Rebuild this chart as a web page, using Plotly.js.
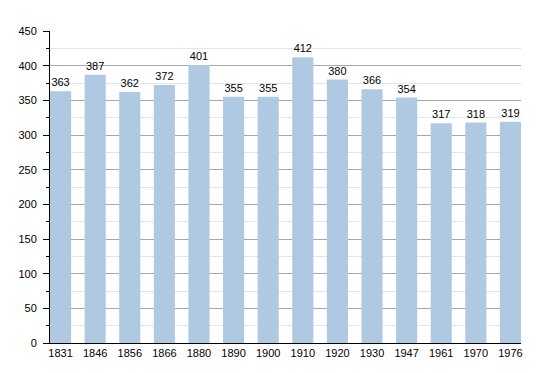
<!DOCTYPE html>
<html>
<head>
<meta charset="utf-8">
<script src="https://cdn.plot.ly/plotly-3.0.1.min.js"></script>
<style>html,body{margin:0;padding:0;background:#fff;}#chart{width:550px;height:373px;}</style>
</head>
<body>
<div id="chart"></div>
<script>
var years = ["1831","1846","1856","1866","1880","1890","1900","1910","1920","1930","1947","1961","1970","1976"];
var population = [363, 387, 362, 372, 401, 355, 355, 412, 380, 366, 354, 317, 318, 319];
var yTicks = [0, 50, 100, 150, 200, 250, 300, 350, 400, 450];

var trace = {
  type: 'bar',
  x: years,
  y: population,
  width: 0.61,
  marker: {color: '#b0c9e3', line: {width: 0}},
  text: population.map(String),
  textposition: 'outside',
  textfont: {family: 'Liberation Sans, Arial, sans-serif', size: 11, color: '#000'},
  cliponaxis: false,
  hoverinfo: 'none'
};

var layout = {
  width: 550, height: 373,
  margin: {l: 50, r: 29, t: 31, b: 30, pad: 0},
  paper_bgcolor: '#fff', plot_bgcolor: '#fff',
  showlegend: false,
  font: {family: 'Liberation Sans, Arial, sans-serif', size: 11, color: '#000'},
  xaxis: {
    type: 'category',
    range: [-0.305, 13.305],
    showline: true, linecolor: '#000', linewidth: 1,
    ticks: '', showgrid: false, zeroline: false,
    tickfont: {size: 11, color: '#000'}
  },
  yaxis: {
    range: [0, 450],
    tickvals: yTicks,
    ticktext: yTicks.map(String),
    showline: true, linecolor: '#000', linewidth: 1,
    ticks: 'outside', ticklen: 6, tickcolor: '#000', tickwidth: 1,
    ticklabelstandoff: 4,
    showgrid: true, gridcolor: '#a8a8a8', gridwidth: 1,
    zeroline: false,
    tickfont: {size: 11, color: '#000'},
    minor: {dtick: 25, tick0: 0, showgrid: true, gridcolor: '#e4e4e4', gridwidth: 1, ticks: 'outside', ticklen: 3, tickcolor: '#000'}
  },
  bargap: 0.39
};

Plotly.newPlot('chart', [trace], layout, {staticPlot: true, displayModeBar: false});
</script>
</body>
</html>
